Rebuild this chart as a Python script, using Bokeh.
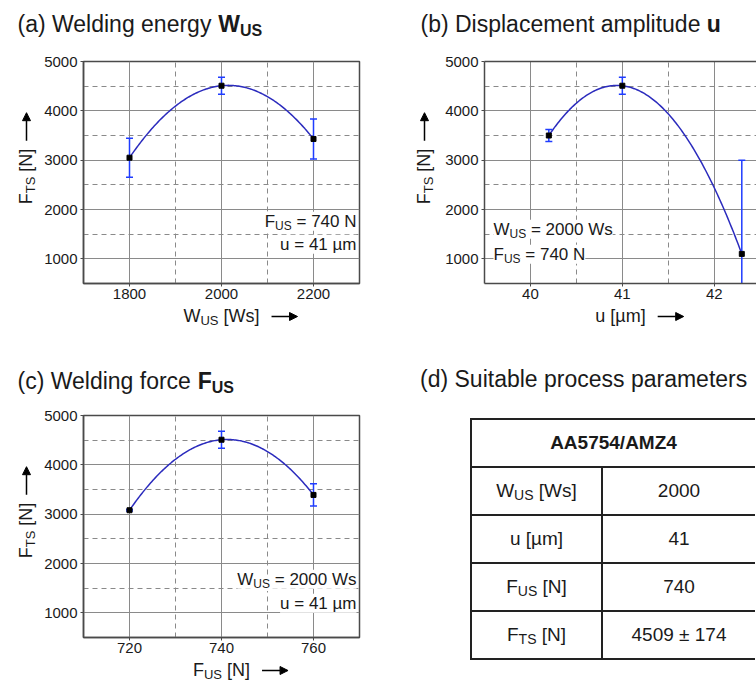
import numpy as np
from bokeh.plotting import figure
from bokeh.models import Label, Arrow, NormalHead, FixedTicker, LinearAxis, Div
from bokeh.layouts import row, column
from bokeh.embed import file_html
from bokeh.resources import INLINE

FONT = "Liberation Sans"
TXT = "#1a1a1a"
FRAME = "#4a4a4a"
GRID = "#8a8a8a"
CURVE = "#2b2bbd"
ERRC = "#1f3cff"
NB = "\u00a0"

# ---------------- data ----------------
W_US = [1800, 2000, 2200]
FTS_W = [3050, 4509, 3430]
ERR_W = [395, 174, 405]

U_AMP = [40.2, 41.0, 42.3]
FTS_U = [3500, 4509, 1100]
ERR_U = [120, 174, 1900]

F_US = [720, 740, 760]
FTS_F = [3080, 4509, 3390]
ERR_F = [15, 174, 225]

Y_TICKS = [1000, 2000, 3000, 4000, 5000]
Y_MINOR = [1500, 2500, 3500, 4500]
W_TICKS = [1800, 2000, 2200]
W_MINOR = [1900, 2100]
U_TICKS = [40, 41, 42]
U_MINOR = [40.5, 41.5]
F_TICKS = [720, 740, 760]
F_MINOR = [730, 750]

TABLE_HEAD = "AA5754/AMZ4"
TABLE_PARAMS = [("W", "US", " [Ws]"), ("u [µm]", "", ""), ("F", "US", " [N]"), ("F", "TS", " [N]")]
TABLE_VALUES = ["2000", "41", "740", "4509 ± 174"]

# ---------------- text metrics (Arial / Liberation Sans) ----------------
REG = {' ': 278, NB: 278, '(': 333, ')': 333, '[': 278, ']': 278, '=': 584, '/': 278, '±': 549, 'µ': 576,
       'a': 556, 'b': 556, 'c': 500, 'd': 556, 'e': 556, 'f': 278, 'g': 556, 'h': 556, 'i': 222, 'l': 222,
       'm': 833, 'n': 556, 'o': 556, 'p': 556, 'r': 333, 's': 500, 't': 278, 'u': 556, 'y': 500,
       'A': 667, 'D': 722, 'F': 611, 'N': 722, 'S': 667, 'T': 611, 'U': 722, 'W': 944}
BOLD = {' ': 278, NB: 278, 'W': 944, 'U': 722, 'S': 667, 'F': 611, 'u': 611}


def tw(s, size, bold=False):
    tbl = BOLD if bold else REG
    return sum(tbl.get(c, 556) for c in s) * size / 1000.0


def rich(p, geo, pieces, X, Y, align="left", angle=0, bg=None):
    """pieces: (text, size, bold, shift). X,Y: local pixel coords (top-left origin) of the baseline."""
    L, T, FH = geo
    widths = [tw(t, s, b) for (t, s, b, sh) in pieces]
    total = sum(widths)
    off = {"left": 0.0, "center": -total / 2.0, "right": -total}[align]
    for (t, s, b, sh), w in zip(pieces, widths):
        comp = 0.15 * s + 3.8          # renderer places alphabetic baseline slightly low
        if angle == 0:
            px, py = X + off, Y + sh - comp
        else:
            px, py = X + sh - comp, Y - off
        lab = Label(x=px - L, y=(T + FH) - py, x_units="screen", y_units="screen",
                    text=t.replace(" ", NB), text_font=FONT, text_font_size=f"{s}px",
                    text_font_style="bold" if b else "normal", text_color=TXT,
                    text_baseline="alphabetic", text_align="left",
                    angle=angle, angle_units="deg")
        if bg:
            lab.background_fill_color = bg
        p.add_layout(lab)
        off += w
    return X + off if angle == 0 else Y - off


def arrow(p, geo, x0, y0, x1, y1):
    L, T, FH = geo
    p.add_layout(Arrow(end=NormalHead(size=8, fill_color="black", line_color="black", line_width=1),
                       x_start=x0 - L, y_start=(T + FH) - y0, x_end=x1 - L, y_end=(T + FH) - y1,
                       start_units="screen", end_units="screen", line_color="black", line_width=1.5))


def strip(w, h, T=0, B=0):
    s = figure(width=w, height=h, x_range=(0, 1), y_range=(0, 1), output_backend="svg",
               toolbar_location=None, min_border_left=0, min_border_right=0,
               min_border_top=T, min_border_bottom=B, x_axis_location=None, y_axis_location=None)
    s.outline_line_color = None
    s.grid.visible = False
    return s, (0, T, h - T - B)


def panel(xs, ys, errs, xr, xt, xm, W, H, L, R, T, B, full_frame=True):
    p = figure(width=W, height=H, x_range=xr, y_range=(500, 5000), output_backend="svg",
               toolbar_location=None, min_border_left=L, min_border_right=R,
               min_border_top=T, min_border_bottom=B)
    p.xaxis.ticker = FixedTicker(ticks=xt, minor_ticks=xm)
    p.yaxis.ticker = FixedTicker(ticks=Y_TICKS, minor_ticks=Y_MINOR)
    for ax in (p.xaxis[0], p.yaxis[0]):
        ax.major_label_text_font = FONT
        ax.major_label_text_font_size = "15px"
        ax.major_label_text_color = TXT
        ax.major_tick_out = 3
        ax.major_tick_in = 0
        ax.minor_tick_line_color = None
        ax.major_tick_line_color = FRAME
        ax.axis_line_color = FRAME
        ax.axis_line_width = 1.5
    p.xaxis.major_label_standoff = 1
    p.yaxis.major_label_standoff = 2
    for g in (p.xgrid[0], p.ygrid[0]):
        g.grid_line_color = GRID
        g.grid_line_width = 1
        g.minor_grid_line_color = GRID
        g.minor_grid_line_dash = "5 4"
        g.minor_grid_line_width = 1
    if full_frame:
        p.outline_line_color = FRAME
        p.outline_line_width = 1.5
    else:
        p.outline_line_color = None
        top = LinearAxis(ticker=FixedTicker(ticks=[]), major_label_text_font_size="0px",
                         major_tick_line_color=None, minor_tick_line_color=None,
                         axis_line_color=FRAME, axis_line_width=1.5)
        p.add_layout(top, "above")

    coef = np.polyfit(xs, ys, 2)
    xf = np.linspace(min(xs), max(xs), 150)
    p.line(xf, np.polyval(coef, xf), line_color=CURVE, line_width=1.5)
    lo = [y - e for y, e in zip(ys, errs)]
    hi = [y + e for y, e in zip(ys, errs)]
    p.segment(x0=xs, y0=lo, x1=xs, y1=hi, line_color=ERRC, line_width=1.5)
    p.scatter(x=list(xs) + list(xs), y=lo + hi, marker="dash", size=7, line_color=ERRC, line_width=1.5)
    p.scatter(x=xs, y=ys, marker="square", size=5, fill_color="black", line_color="black")
    return p, (L, T, H - T - B)


def ylabel_strip(w, h, X, Yc):
    # borders equal to the neighbouring plot (frames in a row are aligned)
    s, g = strip(w, h, 16, 24)
    end = rich(s, g, [("F", 18, False, 0), ("TS", 13, False, 4), (" [N]", 18, False, 0)],
               X, Yc, align="center", angle=90)
    arrow(s, g, X - 6, end - 8, X - 6, end - 36)
    return s


def xlabel_strip(w, h, pieces, Xc, Y):
    s, g = strip(w, h)
    end = rich(s, g, pieces, Xc, Y, align="center")
    arrow(s, g, end + 12, Y - 6, end + 38, Y - 6)
    return s


def title_strip(w, h, pieces, X, Y):
    s, g = strip(w, h)
    rich(s, g, pieces, X, Y)
    return s


# ---------------- (a) ----------------  main figure origin (40, 45)
pa, ga = panel(W_US, FTS_W, ERR_W, (1700, 2300), W_TICKS, W_MINOR, 338, 262, 43, 19, 16, 24)
rich(pa, ga, [("F", 17, False, 0), ("US", 12, False, 4), (" = 740 N", 17, False, 0)], 316, 182, align="right", bg="white")
rich(pa, ga, [("u = 41 µm", 17, False, 0)], 316, 205, align="right", bg="white")
ta = title_strip(378, 45, [("(a) Welding energy ", 23, False, 0), ("W", 23, True, 0), ("US", 16, True, 5)], 17, 31)
ya = ylabel_strip(40, 262, 32, 131)
xa = xlabel_strip(378, 23, [("W", 18, False, 0), ("US", 13, False, 4), (" [Ws]", 18, False, 0)], 221, 15)
colA = column(ta, row(ya, pa), xa)

# ---------------- (b) ----------------  main figure origin (438, 45)
pb, gb = panel(U_AMP, FTS_U, ERR_U, (39.5, 42.46), U_TICKS, U_MINOR, 318, 262, 46, 0, 16, 24, full_frame=False)
rich(pb, gb, [("W", 17, False, 0), ("US", 12, False, 4), (" = 2000 Ws", 17, False, 0)], 55, 190, bg="white")
rich(pb, gb, [("F", 17, False, 0), ("US", 12, False, 4), (" = 740 N", 17, False, 0)], 55, 215, bg="white")
tb = title_strip(378, 45, [("(b) Displacement amplitude ", 23, False, 0), ("u", 23, True, 0)], 42, 31)
yb = ylabel_strip(60, 262, 52, 131)
xb = xlabel_strip(378, 23, [("u [µm]", 18, False, 0)], 242, 15)
colB = column(tb, row(yb, pb), xb)

# ---------------- (c) ----------------  main figure origin (40, 399)
pc, gc = panel(F_US, FTS_F, ERR_F, (710, 770), F_TICKS, F_MINOR, 338, 262, 43, 19, 16, 24)
rich(pc, gc, [("W", 17, False, 0), ("US", 12, False, 4), (" = 2000 Ws", 17, False, 0)], 316, 186, align="right", bg="white")
rich(pc, gc, [("u = 41 µm", 17, False, 0)], 316, 210, align="right", bg="white")
tc = title_strip(378, 69, [("(c) Welding force ", 23, False, 0), ("F", 23, True, 0), ("US", 16, True, 5)], 17, 58)
yc = ylabel_strip(40, 262, 32, 131)
xc = xlabel_strip(378, 20, [("F", 18, False, 0), ("US", 13, False, 4), (" [N]", 18, False, 0)], 221, 15)
colC = column(tc, row(yc, pc), xc)

# ---------------- (d) table ----------------
cell = "border:2px solid #222;height:48px;text-align:center;vertical-align:middle;padding:0;"
rows_html = f'<tr><td colspan="2" style="{cell}border-right:none;font-weight:bold;">{TABLE_HEAD}</td></tr>'
for (a, sub, rest), v in zip(TABLE_PARAMS, TABLE_VALUES):
    sub_html = f'<span style="font-size:14px;position:relative;top:3px;">{sub}</span>' if sub else ""
    rows_html += (f'<tr><td style="{cell}width:131px;">{a}{sub_html}{rest}</td>'
                  f'<td style="{cell}border-right:none;width:153px;">{v}</td></tr>')
html = (f'<div style="position:relative;width:378px;height:351px;font-family:\'{FONT}\',Arial,sans-serif;color:{TXT};">'
        f'<div style="position:absolute;left:37px;top:33px;font-size:23px;line-height:23px;white-space:nowrap;">(d) Suitable process parameters</div>'
        f'<table style="position:absolute;left:87px;top:83px;border-collapse:collapse;font-size:19px;">{rows_html}</table>'
        f'</div>')
pd_div = Div(text=html, width=378, height=351)

layout = column(row(colA, colB), row(colC, pd_div))
open("out.html", "w").write(file_html(layout, INLINE))
